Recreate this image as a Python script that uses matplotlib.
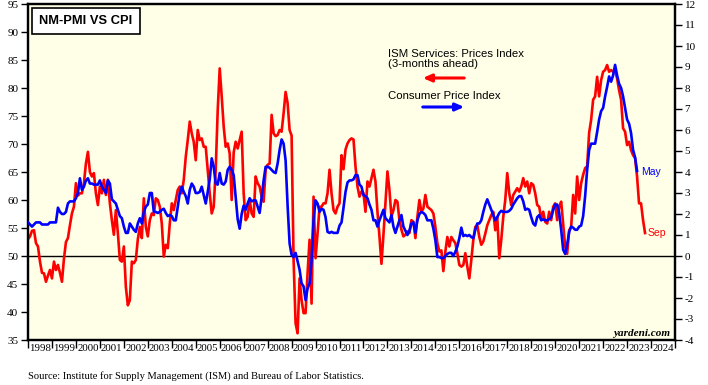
import numpy as np
import matplotlib
matplotlib.use("Agg")
import matplotlib.pyplot as plt

plt.rcParams["axes.unicode_minus"] = False

# monthly data, first point = Jan 1998
start_year = 1998

# ISM Services: Prices Index, shifted 3 months ahead (left axis)
ism_prices = [
    53.0, 53.5, 54.5, 54.6, 52.3, 51.7, 49.0, 47.0, 46.9, 45.4, 46.5, 47.5,  # 1998
    46.0, 49.0, 47.5, 48.4, 47.0, 45.4, 49.5, 52.5, 53.2, 55.5, 57.6, 58.8,  # 1999
    63.0, 60.8, 61.2, 61.2, 63.0, 66.5, 68.6, 65.0, 64.2, 64.8, 61.2, 59.1,  # 2000
    62.4, 61.2, 63.6, 60.9, 63.6, 59.4, 56.4, 53.8, 58.2, 54.1, 49.3, 49.0,  # 2001
    51.7, 44.5, 41.2, 42.1, 49.0, 48.7, 49.3, 53.0, 55.2, 53.2, 60.3, 55.2,  # 2002
    53.5, 56.4, 57.6, 57.3, 60.3, 60.0, 58.8, 55.8, 49.9, 52.0, 51.4, 55.8,  # 2003
    59.4, 58.2, 60.0, 61.8, 62.4, 61.2, 63.6, 67.7, 70.7, 74.0, 71.9, 70.4,  # 2004
    67.1, 72.5, 70.7, 71.0, 69.5, 69.5, 65.4, 61.2, 57.6, 58.8, 65.4, 76.0,  # 2005
    83.5, 78.5, 73.1, 69.5, 70.1, 68.3, 60.0, 68.5, 70.4, 69.2, 70.7, 72.2,  # 2006
    61.2, 56.4, 57.0, 60.0, 57.6, 57.0, 64.2, 63.0, 62.4, 60.6, 59.7, 65.4,  # 2007
    66.3, 66.5, 75.2, 71.9, 71.4, 71.6, 72.5, 72.2, 75.5, 79.3, 77.3, 72.5,  # 2008
    71.5, 49.3, 38.0, 36.2, 46.0, 42.1, 39.8, 39.8, 46.9, 52.9, 41.5, 60.6,  # 2009
    49.6, 54.0, 58.8, 58.8, 59.4, 59.4, 61.2, 65.4, 61.2, 58.2, 57.6, 58.8,  # 2010
    59.4, 68.0, 65.5, 69.0, 70.1, 70.7, 71.0, 70.8, 66.0, 62.4, 60.6, 61.5,  # 2011
    61.2, 57.9, 63.3, 62.4, 63.9, 65.4, 63.3, 57.9, 53.5, 48.6, 53.8, 59.4,  # 2012
    65.1, 61.8, 57.0, 58.2, 60.0, 59.7, 56.4, 54.7, 53.5, 53.8, 54.4, 54.1,  # 2013
    56.4, 56.1, 53.2, 57.0, 60.0, 57.9, 58.5, 60.9, 58.8, 58.5, 58.2, 57.6,  # 2014
    55.2, 52.3, 50.8, 51.0, 47.3, 50.8, 53.4, 51.7, 53.4, 52.8, 52.3, 50.5,  # 2015
    48.4, 48.1, 48.4, 50.5, 48.1, 46.0, 49.3, 52.9, 55.2, 55.5, 53.4, 52.0,  # 2016
    52.6, 54.0, 55.5, 56.4, 57.3, 57.9, 54.6, 57.0, 49.6, 52.9, 57.0, 60.0,  # 2017
    64.8, 61.2, 59.1, 60.9, 61.5, 62.1, 61.5, 62.4, 63.9, 62.4, 63.3, 61.2,  # 2018
    63.0, 62.7, 61.2, 59.1, 58.8, 56.7, 57.9, 56.1, 55.8, 57.9, 56.4, 58.8,  # 2019
    59.4, 56.4, 58.8, 59.7, 55.8, 51.7, 50.4, 54.6, 55.2, 60.9, 57.6, 64.2,  # 2020
    60.0, 63.0, 64.5, 65.7, 66.0, 72.0, 74.3, 77.9, 78.5, 82.0, 78.5, 81.4,  # 2021
    82.9, 83.2, 84.1, 82.9, 83.2, 82.9, 83.2, 81.7, 79.6, 77.9, 72.8, 72.2,  # 2022
    69.8, 70.4, 68.9, 68.0, 67.5, 64.2, 59.4, 59.4, 56.4, 54.1,              # 2023
]

# CPI, yearly % change (right axis)
cpi = [
    1.6, 1.5, 1.4, 1.5, 1.6, 1.6, 1.6, 1.5, 1.5, 1.5, 1.5, 1.6,  # 1998
    1.6, 1.6, 1.6, 2.3, 2.1, 2.0, 2.0, 2.1, 2.5, 2.6, 2.6, 2.6,  # 1999
    2.75, 3.0, 3.7, 3.15, 3.3, 3.6, 3.7, 3.45, 3.45, 3.4, 3.4, 3.4,  # 2000
    3.6, 3.3, 3.15, 3.0, 3.6, 3.45, 2.7, 2.6, 2.5, 2.2, 1.9, 1.8,  # 2001
    1.4, 1.1, 1.1, 1.55, 1.4, 1.25, 1.15, 1.55, 1.8, 1.55, 2.1, 2.35,  # 2002
    2.45, 3.0, 3.0, 2.1, 2.1, 2.05, 2.1, 2.2, 2.25, 2.05, 1.9, 1.95,  # 2003
    1.9, 1.7, 1.7, 2.35, 3.0, 3.3, 3.05, 2.85, 2.5, 3.15, 3.45, 3.3,  # 2004
    3.0, 3.0, 3.05, 3.3, 2.9, 2.5, 3.05, 3.65, 4.65, 4.25, 3.45, 3.4,  # 2005
    3.95, 3.45, 3.4, 3.55, 4.1, 4.25, 4.1, 3.85, 2.8, 1.75, 1.3, 2.0,  # 2006
    2.4, 2.2, 2.5, 2.75, 2.6, 2.65, 2.65, 2.35, 2.05, 2.8, 3.6, 4.25,  # 2007
    4.25, 4.2, 4.1, 4.0, 3.95, 4.4, 5.05, 5.55, 5.35, 4.55, 2.4, 0.6,  # 2008
    0.05, -0.05, 0.15, -0.25, -0.65, -1.3, -1.45, -2.1, -1.55, -1.3, -0.2, 1.7,  # 2009
    2.65, 2.5, 2.1, 2.25, 2.2, 1.85, 1.15, 1.1, 1.15, 1.1, 1.1, 1.1,  # 2010
    1.45, 1.6, 2.3, 3.05, 3.5, 3.6, 3.6, 3.65, 3.85, 3.85, 3.4, 3.3,  # 2011
    2.9, 2.85, 2.75, 2.45, 2.2, 1.7, 1.7, 1.4, 1.7, 1.95, 2.2, 1.8,  # 2012
    1.7, 1.6, 1.95, 1.4, 1.1, 1.4, 1.7, 1.95, 1.4, 1.2, 1.0, 1.2,  # 2013
    1.55, 1.6, 1.1, 1.7, 2.0, 2.1, 2.05, 1.95, 1.7, 1.7, 1.7, 1.3,  # 2014
    0.75, -0.05, -0.05, -0.1, -0.1, 0.0, 0.1, 0.15, 0.15, 0.0, 0.2, 0.45,  # 2015
    0.85, 1.35, 0.95, 1.0, 0.95, 1.0, 0.9, 0.85, 1.25, 1.55, 1.55, 1.7,  # 2016
    2.1, 2.45, 2.7, 2.45, 2.2, 1.95, 1.7, 1.85, 2.05, 2.15, 2.1, 2.1,  # 2017
    2.1, 2.15, 2.25, 2.45, 2.6, 2.75, 2.85, 2.85, 2.6, 2.2, 2.25, 2.2,  # 2018
    1.85, 1.55, 1.45, 1.85, 1.95, 1.7, 1.75, 1.7, 1.7, 1.75, 1.85, 2.2,  # 2019
    2.45, 2.45, 2.05, 1.25, 0.3, 0.1, 0.55, 1.15, 1.4, 1.35, 1.25, 1.25,  # 2020
    1.4, 1.45, 1.9, 2.85, 4.1, 5.05, 5.35, 5.35, 5.35, 5.9, 6.5, 6.9,  # 2021
    7.05, 7.6, 8.05, 8.55, 8.3, 8.6, 9.1, 8.6, 8.2, 8.0, 7.6, 7.05,  # 2022
    6.5, 6.3, 5.85, 5.05, 4.7, 4.05,  # 2023
]

years = list(range(1998, 2025))

red = "#ff0000"
blue = "#0000ff"
serif = "Liberation Serif"
sans = "Liberation Sans"

x_ism = start_year + np.arange(len(ism_prices)) / 12
x_cpi = start_year + np.arange(len(cpi)) / 12

fig = plt.figure(figsize=(7.08, 3.85), dpi=100)
ax = fig.add_axes([28 / 708, 45 / 385, 647 / 708, 336 / 385])
ax.set_facecolor("#fffee6")

ax.axhline(50, color="black", lw=1.0, zorder=1)
ax.plot(x_ism, ism_prices, color=red, lw=1.9, zorder=2)
ax.set_xlim(1998, 2025)
ax.set_ylim(35, 95)
ax.set_yticks(range(35, 96, 5))

ax2 = ax.twinx()
ax2.plot(x_cpi, cpi, color=blue, lw=1.9, zorder=3)
ax2.set_ylim(-4, 12)
ax2.set_yticks(range(-4, 13))

for a in (ax, ax2):
    for s in a.spines.values():
        s.set_linewidth(1.6)

ax.tick_params(axis="y", direction="out", length=5, width=1, labelsize=8, pad=2)
ax2.tick_params(axis="y", direction="out", length=5, width=1, labelsize=8, pad=2)
for lab in ax.get_yticklabels() + ax2.get_yticklabels():
    lab.set_fontfamily(serif)

# years: ticks at year starts, labels centred in between
ax.set_xticks(range(1998, 2026))
ax.set_xticklabels([])
ax.set_xticks([y + 0.5 for y in years], minor=True)
ax.set_xticklabels([str(y) for y in years], minor=True, fontfamily=serif, fontsize=7.8)
ax.tick_params(axis="x", which="major", direction="out", length=6, width=1)
ax.tick_params(axis="x", which="minor", length=0, pad=3)

# title box
fig.text(86 / 708, 1 - 21 / 385, "NM-PMI VS CPI", ha="center", va="center",
         fontsize=9.3, fontweight="bold", family=sans,
         bbox=dict(boxstyle="square,pad=0.55", facecolor="white", edgecolor="black", lw=1.2))

# legend texts and arrows
fig.text(388 / 708, 1 - 59 / 385, "ISM Services: Prices Index\n(3-months ahead)",
         ha="left", va="center", fontsize=8.2, family=sans, linespacing=1.05)
ax.annotate("", xy=(420 / 708, 1 - 78 / 385), xytext=(467 / 708, 1 - 78 / 385),
            xycoords="figure fraction", textcoords="figure fraction",
            arrowprops=dict(arrowstyle="-|>,head_length=0.5,head_width=0.22", color=red, lw=2.2))
fig.text(388 / 708, 1 - 96 / 385, "Consumer Price Index",
         ha="left", va="center", fontsize=8.2, family=sans)
ax.annotate("", xy=(467 / 708, 1 - 107 / 385), xytext=(420 / 708, 1 - 107 / 385),
            xycoords="figure fraction", textcoords="figure fraction",
            arrowprops=dict(arrowstyle="-|>,head_length=0.5,head_width=0.22", color=blue, lw=2.2))

fig.text(641 / 708, 1 - 172 / 385, "May", color=blue, ha="left", va="center",
         fontsize=7.5, family=sans)
fig.text(648 / 708, 1 - 233 / 385, "Sep", color=red, ha="left", va="center",
         fontsize=7.5, family=sans)

fig.text(670 / 708, 1 - 333 / 385, "yardeni.com", ha="right", va="center",
         fontsize=8, family=serif, fontweight="bold", fontstyle="italic")

fig.text(28 / 708, 1 - 376 / 385,
         "Source: Institute for Supply Management (ISM) and Bureau of Labor Statistics.",
         ha="left", va="center", fontsize=7.6, family=serif)

fig.savefig("out.png", dpi=100)
